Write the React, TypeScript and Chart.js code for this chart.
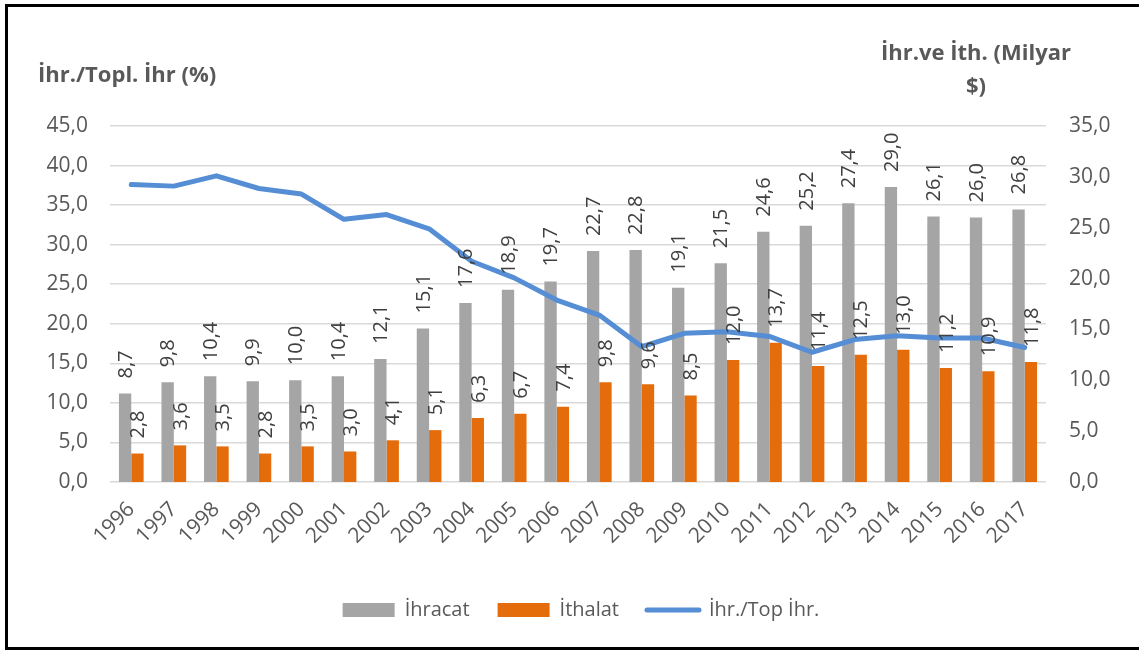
import React, { useEffect, useRef } from 'react';
import { Chart, registerables } from 'chart.js';

Chart.register(...registerables);

const years = ['1996', '1997', '1998', '1999', '2000', '2001', '2002', '2003', '2004', '2005', '2006', '2007', '2008', '2009', '2010', '2011', '2012', '2013', '2014', '2015', '2016', '2017'];
const ihracat = [8.7, 9.8, 10.4, 9.9, 10.0, 10.4, 12.1, 15.1, 17.6, 18.9, 19.7, 22.7, 22.8, 19.1, 21.5, 24.6, 25.2, 27.4, 29.0, 26.1, 26.0, 26.8];
const ithalat = [2.8, 3.6, 3.5, 2.8, 3.5, 3.0, 4.1, 5.1, 6.3, 6.7, 7.4, 9.8, 9.6, 8.5, 12.0, 13.7, 11.4, 12.5, 13.0, 11.2, 10.9, 11.8];
const ihrTopIhr = [37.6, 37.4, 38.7, 37.1, 36.4, 33.2, 33.8, 32.0, 27.9, 25.8, 23.0, 21.1, 17.1, 18.8, 19.0, 18.4, 16.4, 18.0, 18.5, 18.2, 18.2, 17.0];

const seriesNames = ['İhracat', 'İthalat', 'İhr./Top İhr.'];
const leftTitle = 'İhr./Topl. İhr (%)';
const rightTitle = ['İhr.ve İth. (Milyar', '$)'];

const GRAY = '#A5A5A5';
const ORANGE = '#E46C0A';
const BLUE = '#558ED5';
const TEXT = '#595959';
const LABEL = '#404040';
const GRID = '#D9D9D9';
const FONT = '"Open Sans", "Noto Sans", sans-serif';

const fmt = (v: number) => Number(v).toFixed(1).replace('.', ',');

const barLabelPlugin = {
  id: 'barLabels',
  afterDatasetsDraw(chart: any) {
    const ctx = chart.ctx;
    ctx.save();
    ctx.font = `20px ${FONT}`;
    ctx.fillStyle = LABEL;
    [0, 1].forEach((di) => {
      const meta = chart.getDatasetMeta(di);
      const data = chart.data.datasets[di].data as number[];
      meta.data.forEach((bar: any, i: number) => {
        const { x, y } = bar.getProps(['x', 'y'], true);
        ctx.save();
        ctx.translate(x, y - 15);
        ctx.rotate(-Math.PI / 2);
        ctx.textAlign = 'left';
        ctx.textBaseline = 'middle';
        ctx.fillText(fmt(data[i]), 0, 1);
        ctx.restore();
      });
    });
    ctx.restore();
  },
};

const titlePlugin = {
  id: 'axisTitles',
  afterDraw(chart: any) {
    const ctx = chart.ctx;
    ctx.save();
    ctx.fillStyle = TEXT;
    ctx.font = `bold 22px ${FONT}`;
    ctx.textBaseline = 'alphabetic';
    ctx.textAlign = 'left';
    ctx.fillText(leftTitle, 38, 82);
    ctx.textAlign = 'center';
    ctx.fillText(rightTitle[0], 976, 60);
    ctx.fillText(rightTitle[1], 976, 93);
    ctx.restore();
  },
};

export default function App() {
  const ref = useRef<HTMLCanvasElement | null>(null);

  useEffect(() => {
    if (!ref.current) return;
    const chart = new Chart(ref.current, {
      type: 'bar',
      data: {
        labels: years,
        datasets: [
          {
            type: 'bar',
            label: seriesNames[0],
            data: ihracat,
            backgroundColor: GRAY,
            borderWidth: 0,
            yAxisID: 'y1',
            categoryPercentage: 0.58,
            barPercentage: 1,
            order: 2,
          },
          {
            type: 'bar',
            label: seriesNames[1],
            data: ithalat,
            backgroundColor: ORANGE,
            borderWidth: 0,
            yAxisID: 'y1',
            categoryPercentage: 0.58,
            barPercentage: 1,
            order: 3,
          },
          {
            type: 'line',
            label: seriesNames[2],
            data: ihrTopIhr,
            borderColor: BLUE,
            backgroundColor: BLUE,
            borderWidth: 5,
            pointRadius: 0,
            pointHoverRadius: 0,
            tension: 0,
            borderCapStyle: 'round',
            borderJoinStyle: 'round',
            fill: false,
            yAxisID: 'y',
            order: 0,
          },
        ] as any,
      },
      options: {
        responsive: false,
        animation: false,
        devicePixelRatio: 1,
        layout: { padding: { top: 126, left: 23, right: 0, bottom: 20 } },
        plugins: {
          tooltip: { enabled: false },
          legend: {
            position: 'bottom',
            labels: {
              usePointStyle: true,
              pointStyleWidth: 52,
              boxHeight: 14,
              padding: 28,
              color: TEXT,
              font: { family: FONT, size: 20 },
              generateLabels: () => [
                { text: seriesNames[0], fillStyle: GRAY, strokeStyle: GRAY, lineWidth: 0, pointStyle: 'rect', datasetIndex: 0, hidden: false, fontColor: TEXT },
                { text: seriesNames[1], fillStyle: ORANGE, strokeStyle: ORANGE, lineWidth: 0, pointStyle: 'rect', datasetIndex: 1, hidden: false, fontColor: TEXT },
                { text: seriesNames[2], fillStyle: BLUE, strokeStyle: BLUE, lineWidth: 5, lineCap: 'round', pointStyle: 'line', datasetIndex: 2, hidden: false, fontColor: TEXT },
              ],
            },
          },
        },
        scales: {
          x: {
            grid: { display: false },
            border: { display: false },
            ticks: {
              color: TEXT,
              font: { family: FONT, size: 21 },
              minRotation: 45,
              maxRotation: 45,
              autoSkip: false,
              padding: 7,
            },
            afterFit: (s: any) => {
              s.height = 90;
            },
          },
          y: {
            position: 'left',
            min: 0,
            max: 45,
            ticks: {
              stepSize: 5,
              color: TEXT,
              font: { family: FONT, size: 21 },
              padding: 22,
              callback: (v: any) => fmt(v),
            },
            grid: { color: GRID, lineWidth: 1.5, drawTicks: false },
            border: { display: false },
            afterFit: (s: any) => {
              s.width = 87;
            },
          },
          y1: {
            position: 'right',
            min: 0,
            max: 35,
            ticks: {
              stepSize: 5,
              color: TEXT,
              font: { family: FONT, size: 21 },
              padding: 23,
              callback: (v: any) => fmt(v),
            },
            grid: { display: false, drawTicks: false },
            border: { display: false },
            afterFit: (s: any) => {
              s.width = 93;
            },
          },
        },
      } as any,
      plugins: [barLabelPlugin, titlePlugin],
    });
    return () => chart.destroy();
  }, []);

  return (
    <div style={{ position: 'fixed', left: 0, top: 0, width: 1139, height: 650, background: '#fff', overflow: 'hidden' }}>
      <canvas ref={ref} width={1139} height={650} style={{ position: 'absolute', left: 0, top: 0, width: 1139, height: 650 }} />
      <div
        style={{
          position: 'absolute',
          left: 5,
          top: 4,
          width: 1150,
          height: 646,
          boxSizing: 'border-box',
          border: '3px solid #000',
          pointerEvents: 'none',
        }}
      />
    </div>
  );
}
